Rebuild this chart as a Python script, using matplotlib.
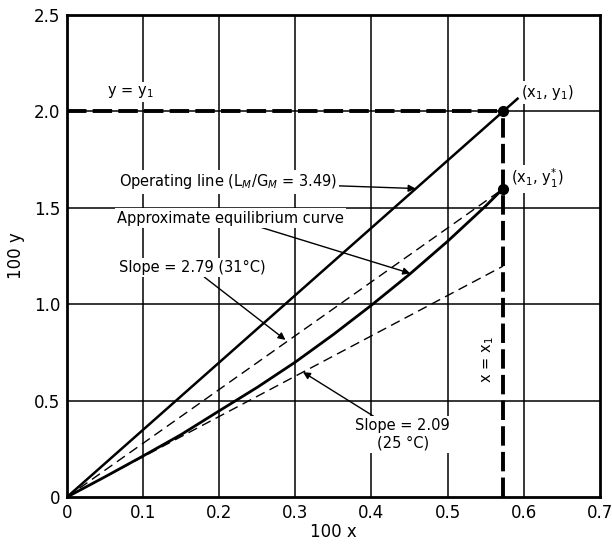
import matplotlib
matplotlib.use('Agg')
import matplotlib.pyplot as plt
import numpy as np

# данные
x1 = 0.573
y1 = 2.0
y1_star = 1.6
slope_op = 3.49
slope_31 = 2.79
slope_25 = 2.09

eq_x = [0, 0.05, 0.1, 0.15, 0.2, 0.25, 0.3, 0.35, 0.4, 0.45, 0.5, 0.55, 0.573]
eq_y = [0, 0.105, 0.213, 0.324, 0.447, 0.569, 0.70, 0.843, 0.995, 1.155, 1.326, 1.509, 1.6]

xticks = [0, 0.1, 0.2, 0.3, 0.4, 0.5, 0.6, 0.7]
xtick_labels = ['0', '0.1', '0.2', '0.3', '0.4', '0.5', '0.6', '0.7']
yticks = [0, 0.5, 1.0, 1.5, 2.0, 2.5]
ytick_labels = ['0', '0.5', '1.0', '1.5', '2.0', '2.5']

fig = plt.figure(figsize=(6.12, 5.45), dpi=100)
ax = fig.add_axes([0.1095, 0.088, 0.8705, 0.8845])
ax.set_xlim(0, 0.7)
ax.set_ylim(0, 2.5)

# сетка
for xv in xticks[1:-1]:
    ax.axvline(xv, color='black', lw=1.1, zorder=1)
for yv in yticks[1:-1]:
    ax.axhline(yv, color='black', lw=1.1, zorder=1)

# рабочая линия (чуть дальше точки x1)
xo = np.array([0, 0.592])
ax.plot(xo, slope_op * xo, color='black', lw=1.8, zorder=4)

# кривая равновесия
ax.plot(eq_x, eq_y, color='black', lw=2.0, zorder=4)

# пунктирные наклоны
xs = np.array([0, x1])
ax.plot(xs, slope_31 * xs, color='black', lw=1.0, dashes=(7, 4), zorder=4)
ax.plot(xs, slope_25 * xs, color='black', lw=1.0, dashes=(7, 4), zorder=4)

# y = y1 и x = x1
ax.plot([0, x1], [y1, y1], color='black', lw=2.8, dashes=(5, 1.6), zorder=4)
ax.plot([x1, x1], [0, y1], color='black', lw=2.8, dashes=(5, 1.6), zorder=4)

ax.plot([x1, x1], [y1, y1_star], 'o', color='black', ms=7, zorder=5)

box = dict(facecolor='white', edgecolor='none', pad=1.5)
fs = 10.5
ax.text(0.083, 2.1, 'y = y$_1$', fontsize=fs, ha='center', va='center', bbox=box, zorder=3)
ax.text(0.596, 2.1, '(x$_1$, y$_1$)', fontsize=fs, ha='left', va='center', bbox=box, zorder=3)
ax.text(0.583, 1.65, '(x$_1$, y$_1^{*}$)', fontsize=fs, ha='left', va='center', bbox=box, zorder=3)
ax.text(0.553, 0.71, 'x = x$_1$', fontsize=fs, ha='center', va='center', rotation=90, bbox=box, zorder=3)

ax.annotate('Operating line (L$_M$/G$_M$ = 3.49)', xy=(0.458, 1.6), xytext=(0.068, 1.634),
            fontsize=fs, ha='left', va='center', bbox=box, zorder=3,
            arrowprops=dict(arrowstyle='-|>', color='black', lw=1.0, shrinkA=0, shrinkB=0))
ax.annotate('Approximate equilibrium curve', xy=(0.451, 1.16), xytext=(0.066, 1.447),
            fontsize=fs, ha='left', va='center', bbox=box, zorder=3,
            arrowprops=dict(arrowstyle='-|>', color='black', lw=1.0, shrinkA=0, shrinkB=0))
ax.annotate('Slope = 2.79 (31°C)', xy=(0.287, 0.815), xytext=(0.068, 1.19),
            fontsize=fs, ha='left', va='center', bbox=box, zorder=3,
            arrowprops=dict(arrowstyle='-|>', color='black', lw=1.0, shrinkA=0, shrinkB=0))
ax.annotate('Slope = 2.09\n(25 °C)', xy=(0.31, 0.648), xytext=(0.441, 0.325),
            fontsize=fs, ha='center', va='center', bbox=box, zorder=3,
            arrowprops=dict(arrowstyle='-|>', color='black', lw=1.0, shrinkA=0, shrinkB=0))

ax.set_xticks(xticks)
ax.set_xticklabels(xtick_labels)
ax.set_yticks(yticks)
ax.set_yticklabels(ytick_labels)
ax.tick_params(length=0, labelsize=12, pad=5)
for s in ax.spines.values():
    s.set_linewidth(2.0)
ax.set_xlabel('100 x', fontsize=12, labelpad=1)
ax.set_ylabel('100 y', fontsize=12, labelpad=6)

fig.savefig('out.png', dpi=100)
